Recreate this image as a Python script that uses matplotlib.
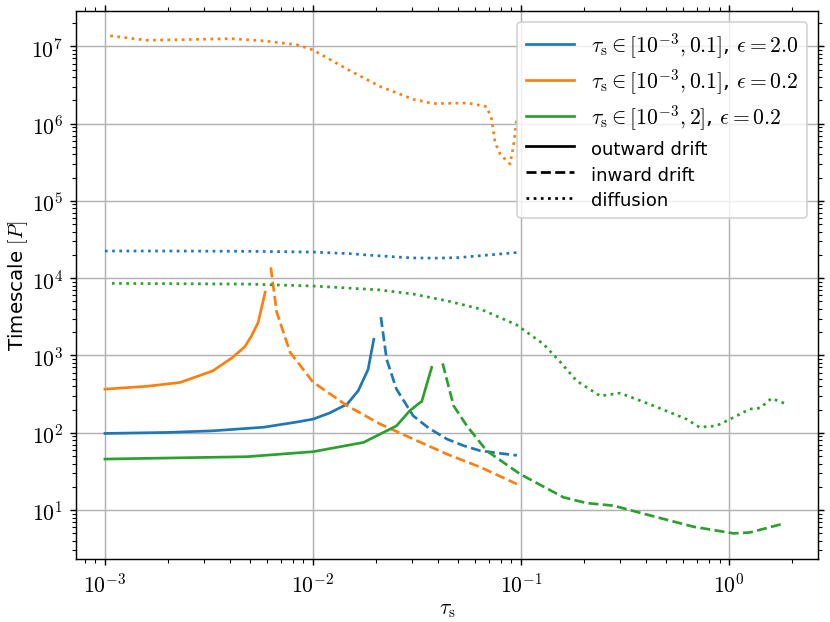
import numpy as np
import matplotlib
matplotlib.use("Agg")
import matplotlib.pyplot as plt
from matplotlib.lines import Line2D
from matplotlib.ticker import FuncFormatter, NullFormatter

plt.rcParams['mathtext.fontset'] = 'cm'
plt.rcParams['font.family'] = ['DejaVu Sans']
plt.rcParams['font.size'] = 12

# eps = 2.0, tau_s in [1e-3, 0.1]
blue_out_x = [1e-3, 2e-3, 3.3e-3, 5.8e-3, 8.4e-3, 1e-2, 1.2e-2, 1.46e-2, 1.65e-2, 1.84e-2, 1.96e-2]
blue_out_y = [98, 101, 106, 118, 138, 150, 180, 235, 350, 660, 1620]
blue_in_x = [2.12e-2, 2.26e-2, 2.52e-2, 3.03e-2, 3.6e-2, 4.4e-2, 5.3e-2, 6.36e-2, 8e-2, 9.55e-2]
blue_in_y = [3140, 890, 367, 166, 115, 83, 68, 58.6, 54, 51]
blue_diff_x = [1e-3, 2e-3, 5e-3, 1e-2, 1.5e-2, 2e-2, 3e-2, 4e-2, 5e-2, 7e-2, 9.6e-2]
blue_diff_y = [22500, 22500, 22300, 21800, 20800, 19600, 18300, 18200, 18500, 20000, 21500]

# eps = 0.2, tau_s in [1e-3, 0.1]
orange_out_x = [1e-3, 1.6e-3, 2.3e-3, 3.3e-3, 4.12e-3, 4.7e-3, 5.07e-3, 5.45e-3, 5.89e-3]
orange_out_y = [367, 400, 448, 633, 950, 1300, 1800, 2680, 6600]
orange_in_x = [6.27e-3, 6.69e-3, 7.76e-3, 1e-2, 1.46e-2, 2.1e-2, 3.03e-2, 4.4e-2, 6.36e-2, 9.55e-2]
orange_in_y = [13800, 3650, 1100, 452, 224, 130, 83, 53, 36, 21.7]
orange_diff_x = [1.06e-3, 1.59e-3, 2.3e-3, 4e-3, 5.8e-3, 8.36e-3, 1e-2, 1.46e-2, 2.1e-2, 3.03e-2,
                 3.78e-2, 5.56e-2, 6.84e-2, 7.23e-2, 7.5e-2, 7.95e-2, 8.86e-2, 9.2e-2, 9.55e-2]
orange_diff_y = [1.37e7, 1.2e7, 1.22e7, 1.26e7, 1.18e7, 1.05e7, 9.0e6, 5.07e6, 3.03e6, 2.07e6,
                 1.82e6, 1.85e6, 1.66e6, 1.14e6, 5.7e5, 4.0e5, 3.0e5, 5.2e5, 1.2e6]

# eps = 0.2, tau_s in [1e-3, 2]
green_out_x = [1e-3, 4.8e-3, 1e-2, 1.75e-2, 2.52e-2, 2.92e-2, 3.27e-2, 3.33e-2, 3.72e-2]
green_out_y = [45.7, 49, 56.9, 75, 123, 193, 246, 252, 701]
green_in_x = [4.2e-2, 4.74e-2, 5.49e-2, 6.84e-2, 9.9e-2, 0.16, 0.207, 0.278, 0.433, 0.675, 1.05, 1.26, 1.85]
green_in_y = [790, 224, 123, 58.5, 29.2, 14.6, 12.3, 11.4, 8.3, 6.08, 4.99, 5.13, 6.73]
green_diff_x = [1.08e-3, 4.8e-3, 1e-2, 2.1e-2, 3.03e-2, 4.4e-2, 6.36e-2, 9.5e-2, 0.128, 0.155,
                0.185, 0.24, 0.30, 0.433, 0.625, 0.72, 0.87, 1.05, 1.26, 1.41, 1.60, 1.85]
green_diff_y = [8570, 8400, 7930, 7050, 6240, 5100, 4000, 2500, 1410, 815,
                470, 300, 326, 224, 150, 118, 123, 158, 203, 209, 279, 240]

labels = [r'$\tau_\mathrm{s}\in[10^{-3},0.1]$, $\epsilon=2.0$',
          r'$\tau_\mathrm{s}\in[10^{-3},0.1]$, $\epsilon=0.2$',
          r'$\tau_\mathrm{s}\in[10^{-3},2]$, $\epsilon=0.2$']
kinds = ['outward drift', 'inward drift', 'diffusion']
colors = ['C0', 'C1', 'C2']

fig = plt.figure(figsize=(6.385, 4.792))
ax = fig.add_axes([0.0916, 0.101, 0.894, 0.8796])

sets = [(blue_out_x, blue_out_y, blue_in_x, blue_in_y, blue_diff_x, blue_diff_y),
        (orange_out_x, orange_out_y, orange_in_x, orange_in_y, orange_diff_x, orange_diff_y),
        (green_out_x, green_out_y, green_in_x, green_in_y, green_diff_x, green_diff_y)]
for c, (ox, oy, ix, iy, dx, dy) in zip(colors, sets):
    ax.plot(ox, oy, color=c, ls='-')
    ax.plot(ix, iy, color=c, ls='--')
    ax.plot(dx, dy, color=c, ls=':')

ax.set_xscale('log')
ax.set_yscale('log')
ax.set_xlim(7.26e-4, 2.68)
ax.set_ylim(2.32, 2.86e7)
ax.set_xticks([1e-3, 1e-2, 1e-1, 1e0])
ax.set_yticks([10.0 ** k for k in range(1, 8)])
fmt = FuncFormatter(lambda v, p: r'$10^{%d}$' % round(np.log10(v)))
ax.xaxis.set_major_formatter(fmt)
ax.yaxis.set_major_formatter(fmt)
ax.xaxis.set_minor_formatter(NullFormatter())
ax.yaxis.set_minor_formatter(NullFormatter())
ax.tick_params(which='both', top=True, right=True)
ax.grid(True, which='major')
ax.set_xlabel(r'$\tau_\mathrm{s}$', labelpad=2)
ax.set_ylabel(r'Timescale $[P]$', fontsize=11, labelpad=1)

handles = [Line2D([], [], color=c) for c in colors]
handles += [Line2D([], [], color='k', ls='-'),
            Line2D([], [], color='k', ls='--'),
            Line2D([], [], color='k', ls=':')]
leg = ax.legend(handles, labels + kinds, loc='upper right', handlelength=2.2,
                labelspacing=0.3)
for t in leg.get_texts()[3:]:
    t.set_fontsize(10)

fig.savefig('out.png', dpi=130)
